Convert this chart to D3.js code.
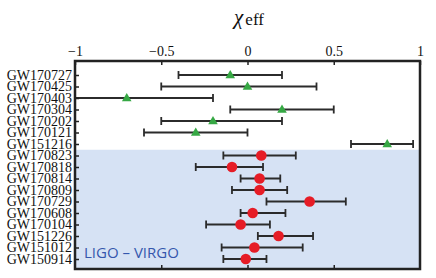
<!DOCTYPE html>
<html>
<head>
<meta charset="utf-8">
<script src="https://cdn.jsdelivr.net/npm/d3@7"></script>
<style>
  body { margin: 0; background: #fff; }
  svg { display: block; }
</style>
</head>
<body>
<svg width="436" height="278"></svg>
<script>
const WIDTH = 436
const HEIGHT = 278

// events, top to bottom
const events = ['GW170727', 'GW170425', 'GW170403', 'GW170304', 'GW170202', 'GW170121', 'GW151216',
                'GW170823', 'GW170818', 'GW170814', 'GW170809', 'GW170729', 'GW170608', 'GW170104',
                'GW151226', 'GW151012', 'GW150914']
// chi_eff median and 90% bounds
const chiEff = [-0.10, 0.00, -0.70, 0.20, -0.20, -0.30, 0.81,
                0.08, -0.09, 0.07, 0.07, 0.36, 0.03, -0.04, 0.18, 0.04, -0.01]
const chiLow = [-0.40, -0.50, -1.00, -0.10, -0.50, -0.60, 0.60,
                -0.14, -0.30, -0.04, -0.09, 0.11, -0.04, -0.24, 0.06, -0.15, -0.14]
const chiHigh = [0.20, 0.40, -0.20, 0.50, 0.20, 0.00, 0.96,
                 0.28, 0.09, 0.19, 0.23, 0.57, 0.22, 0.13, 0.38, 0.32, 0.11]
// first 7 are the independent (IAS) events, rest LIGO-Virgo
const source = ['ias', 'ias', 'ias', 'ias', 'ias', 'ias', 'ias',
                'lv', 'lv', 'lv', 'lv', 'lv', 'lv', 'lv', 'lv', 'lv', 'lv']
const xTicks = [-1, -0.5, 0, 0.5, 1]

const rows = events.map((name, i) => ({name, mid: chiEff[i], lo: chiLow[i], hi: chiHigh[i], src: source[i]}))

const plotLeft = 75, plotRight = 420, plotTop = 61, plotBottom = 269

const x = d3.scaleLinear().domain([-1, 1]).range([plotLeft, plotRight])
const y = d3.scalePoint().domain(events).range([75, 259])

const svg = d3.select('svg')

// shaded LIGO-Virgo block
const firstLv = rows.find(r => r.src === 'lv').name
const shadeTop = y(firstLv) - y.step() / 2
svg.append('rect')
    .attr('x', plotLeft)
    .attr('y', shadeTop)
    .attr('width', plotRight - plotLeft)
    .attr('height', plotBottom - shadeTop)
    .attr('fill', '#d6e2f4')

svg.append('text')
    .attr('x', 84)
    .attr('y', 258)
    .attr('font-family', 'Open Sans, sans-serif')
    .attr('font-size', 15)
    .attr('fill', '#3557ad')
    .text('LIGO – VIRGO')

// error bars
const bars = svg.append('g')
    .attr('stroke', '#2b2b2b')
    .attr('stroke-width', 1.8)
    .selectAll('g')
    .data(rows)
    .enter().append('g')

bars.append('line')
    .attr('x1', d => x(d.lo))
    .attr('x2', d => x(d.hi))
    .attr('y1', d => y(d.name))
    .attr('y2', d => y(d.name))

bars.append('line')
    .attr('x1', d => x(d.lo)).attr('x2', d => x(d.lo))
    .attr('y1', d => y(d.name) - 4).attr('y2', d => y(d.name) + 4)

bars.append('line')
    .attr('x1', d => x(d.hi)).attr('x2', d => x(d.hi))
    .attr('y1', d => y(d.name) - 4).attr('y2', d => y(d.name) + 4)

// markers
svg.append('g')
    .selectAll('path')
    .data(rows.filter(d => d.src === 'ias'))
    .enter().append('path')
    .attr('d', d3.symbol(d3.symbolTriangle, 40))
    .attr('transform', d => `translate(${x(d.mid)},${y(d.name) + 0.5})`)
    .attr('fill', '#36a844')

svg.append('g')
    .selectAll('circle')
    .data(rows.filter(d => d.src === 'lv'))
    .enter().append('circle')
    .attr('cx', d => x(d.mid))
    .attr('cy', d => y(d.name))
    .attr('r', 5.3)
    .attr('fill', '#e61c26')

// axes
const serif = 'Liberation Serif, Times New Roman, serif'

const topAxis = svg.append('g')
    .attr('transform', `translate(0,${plotTop})`)
    .call(d3.axisTop(x).tickValues(xTicks).tickFormat(d3.format('~g'))
        .tickSizeInner(-4).tickSizeOuter(0).tickPadding(5))

const bottomAxis = svg.append('g')
    .attr('transform', `translate(0,${plotBottom})`)
    .call(d3.axisBottom(x).tickValues([-0.5, 0, 0.5]).tickFormat('')
        .tickSizeInner(-4).tickSizeOuter(0))

const leftAxis = svg.append('g')
    .attr('transform', `translate(${plotLeft},0)`)
    .call(d3.axisLeft(y).tickSizeInner(-4).tickSizeOuter(0).tickPadding(3))

;[topAxis, bottomAxis, leftAxis].forEach(g => {
    g.select('.domain').remove()
    g.selectAll('.tick line').attr('stroke', '#222').attr('stroke-width', 1.5)
    g.selectAll('text').attr('font-family', serif).attr('font-size', 14).attr('fill', '#111')
})

// frame
svg.append('rect')
    .attr('x', plotLeft)
    .attr('y', plotTop)
    .attr('width', plotRight - plotLeft)
    .attr('height', plotBottom - plotTop)
    .attr('fill', 'none')
    .attr('stroke', '#222')
    .attr('stroke-width', 2.5)

// title
const title = svg.append('text')
    .attr('x', 249)
    .attr('y', 25)
    .attr('text-anchor', 'middle')
    .attr('font-family', serif)
    .attr('fill', '#111')
title.append('tspan').attr('font-size', 21).attr('font-style', 'italic').attr('dy', -1).text('χ')
title.append('tspan').attr('font-size', 17).attr('dx', 2).attr('dy', 1).text('eff')
</script>
</body>
</html>
